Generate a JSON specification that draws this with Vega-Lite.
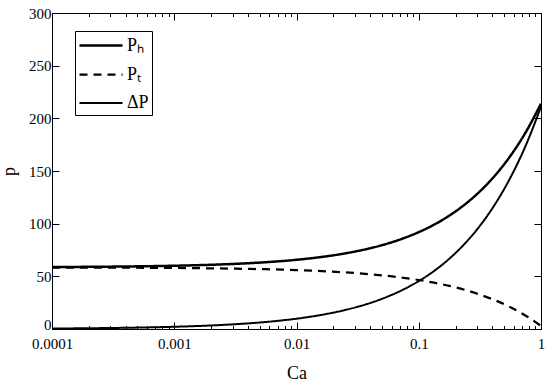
{
  "$schema": "https://vega.github.io/schema/vega-lite/v6.json",
  "width": 489,
  "height": 316,
  "autosize": "none",
  "padding": {"left": 52, "top": 13, "right": 9, "bottom": 55},
  "background": "white",
  "config": {
    "view": {"stroke": "black", "strokeWidth": 1},
    "font": "Liberation Serif",
    "axis": {
      "domainColor": "black",
      "tickColor": "black",
      "labelColor": "black",
      "titleColor": "black",
      "labelFont": "Liberation Serif",
      "titleFont": "Liberation Serif",
      "labelFontSize": 15,
      "titleFontSize": 18,
      "titleFontWeight": "normal",
      "grid": false,
      "tickWidth": 1,
      "domainWidth": 1
    },
    "legend": {
      "labelFont": "Liberation Serif",
      "labelFontSize": 18,
      "labelColor": "black"
    }
  },
  "data": {
    "values": [
      {"Ca": 0.0001, "p": 58.83, "s": "Pₕ"},
      {"Ca": 0.0001334, "p": 58.91, "s": "Pₕ"},
      {"Ca": 0.0001778, "p": 58.99, "s": "Pₕ"},
      {"Ca": 0.0002371, "p": 59.10, "s": "Pₕ"},
      {"Ca": 0.0003162, "p": 59.22, "s": "Pₕ"},
      {"Ca": 0.0004217, "p": 59.38, "s": "Pₕ"},
      {"Ca": 0.0005623, "p": 59.56, "s": "Pₕ"},
      {"Ca": 0.0007499, "p": 59.78, "s": "Pₕ"},
      {"Ca": 0.001, "p": 60.05, "s": "Pₕ"},
      {"Ca": 0.001334, "p": 60.39, "s": "Pₕ"},
      {"Ca": 0.001778, "p": 60.78, "s": "Pₕ"},
      {"Ca": 0.002371, "p": 61.26, "s": "Pₕ"},
      {"Ca": 0.003162, "p": 61.85, "s": "Pₕ"},
      {"Ca": 0.004217, "p": 62.56, "s": "Pₕ"},
      {"Ca": 0.005623, "p": 63.41, "s": "Pₕ"},
      {"Ca": 0.007499, "p": 64.45, "s": "Pₕ"},
      {"Ca": 0.01, "p": 65.71, "s": "Pₕ"},
      {"Ca": 0.01334, "p": 67.24, "s": "Pₕ"},
      {"Ca": 0.01778, "p": 69.09, "s": "Pₕ"},
      {"Ca": 0.02371, "p": 71.33, "s": "Pₕ"},
      {"Ca": 0.03162, "p": 74.04, "s": "Pₕ"},
      {"Ca": 0.04217, "p": 77.33, "s": "Pₕ"},
      {"Ca": 0.05623, "p": 81.31, "s": "Pₕ"},
      {"Ca": 0.07499, "p": 86.14, "s": "Pₕ"},
      {"Ca": 0.1, "p": 91.99, "s": "Pₕ"},
      {"Ca": 0.1334, "p": 99.06, "s": "Pₕ"},
      {"Ca": 0.1778, "p": 107.65, "s": "Pₕ"},
      {"Ca": 0.2371, "p": 118.05, "s": "Pₕ"},
      {"Ca": 0.3162, "p": 130.64, "s": "Pₕ"},
      {"Ca": 0.4217, "p": 145.90, "s": "Pₕ"},
      {"Ca": 0.5623, "p": 164.39, "s": "Pₕ"},
      {"Ca": 0.7499, "p": 186.79, "s": "Pₕ"},
      {"Ca": 1, "p": 213.93, "s": "Pₕ"},
      {"Ca": 0.0001, "p": 58.38, "s": "Pₜ"},
      {"Ca": 0.0001334, "p": 58.36, "s": "Pₜ"},
      {"Ca": 0.0001778, "p": 58.32, "s": "Pₜ"},
      {"Ca": 0.0002371, "p": 58.29, "s": "Pₜ"},
      {"Ca": 0.0003162, "p": 58.24, "s": "Pₜ"},
      {"Ca": 0.0004217, "p": 58.19, "s": "Pₜ"},
      {"Ca": 0.0005623, "p": 58.12, "s": "Pₜ"},
      {"Ca": 0.0007499, "p": 58.04, "s": "Pₜ"},
      {"Ca": 0.001, "p": 57.94, "s": "Pₜ"},
      {"Ca": 0.001334, "p": 57.83, "s": "Pₜ"},
      {"Ca": 0.001778, "p": 57.68, "s": "Pₜ"},
      {"Ca": 0.002371, "p": 57.51, "s": "Pₜ"},
      {"Ca": 0.003162, "p": 57.30, "s": "Pₜ"},
      {"Ca": 0.004217, "p": 57.05, "s": "Pₜ"},
      {"Ca": 0.005623, "p": 56.74, "s": "Pₜ"},
      {"Ca": 0.007499, "p": 56.37, "s": "Pₜ"},
      {"Ca": 0.01, "p": 55.92, "s": "Pₜ"},
      {"Ca": 0.01334, "p": 55.37, "s": "Pₜ"},
      {"Ca": 0.01778, "p": 54.71, "s": "Pₜ"},
      {"Ca": 0.02371, "p": 53.91, "s": "Pₜ"},
      {"Ca": 0.03162, "p": 52.94, "s": "Pₜ"},
      {"Ca": 0.04217, "p": 51.77, "s": "Pₜ"},
      {"Ca": 0.05623, "p": 50.34, "s": "Pₜ"},
      {"Ca": 0.07499, "p": 48.62, "s": "Pₜ"},
      {"Ca": 0.1, "p": 46.53, "s": "Pₜ"},
      {"Ca": 0.1334, "p": 43.99, "s": "Pₜ"},
      {"Ca": 0.1778, "p": 40.93, "s": "Pₜ"},
      {"Ca": 0.2371, "p": 37.21, "s": "Pₜ"},
      {"Ca": 0.3162, "p": 32.70, "s": "Pₜ"},
      {"Ca": 0.4217, "p": 27.25, "s": "Pₜ"},
      {"Ca": 0.5623, "p": 20.64, "s": "Pₜ"},
      {"Ca": 0.7499, "p": 12.63, "s": "Pₜ"},
      {"Ca": 1, "p": 2.93, "s": "Pₜ"},
      {"Ca": 0.0001, "p": 0.45, "s": "ΔP"},
      {"Ca": 0.0001334, "p": 0.55, "s": "ΔP"},
      {"Ca": 0.0001778, "p": 0.67, "s": "ΔP"},
      {"Ca": 0.0002371, "p": 0.81, "s": "ΔP"},
      {"Ca": 0.0003162, "p": 0.98, "s": "ΔP"},
      {"Ca": 0.0004217, "p": 1.19, "s": "ΔP"},
      {"Ca": 0.0005623, "p": 1.44, "s": "ΔP"},
      {"Ca": 0.0007499, "p": 1.74, "s": "ΔP"},
      {"Ca": 0.001, "p": 2.11, "s": "ΔP"},
      {"Ca": 0.001334, "p": 2.56, "s": "ΔP"},
      {"Ca": 0.001778, "p": 3.10, "s": "ΔP"},
      {"Ca": 0.002371, "p": 3.75, "s": "ΔP"},
      {"Ca": 0.003162, "p": 4.55, "s": "ΔP"},
      {"Ca": 0.004217, "p": 5.51, "s": "ΔP"},
      {"Ca": 0.005623, "p": 6.67, "s": "ΔP"},
      {"Ca": 0.007499, "p": 8.08, "s": "ΔP"},
      {"Ca": 0.01, "p": 9.79, "s": "ΔP"},
      {"Ca": 0.01334, "p": 11.87, "s": "ΔP"},
      {"Ca": 0.01778, "p": 14.38, "s": "ΔP"},
      {"Ca": 0.02371, "p": 17.42, "s": "ΔP"},
      {"Ca": 0.03162, "p": 21.10, "s": "ΔP"},
      {"Ca": 0.04217, "p": 25.56, "s": "ΔP"},
      {"Ca": 0.05623, "p": 30.97, "s": "ΔP"},
      {"Ca": 0.07499, "p": 37.52, "s": "ΔP"},
      {"Ca": 0.1, "p": 45.46, "s": "ΔP"},
      {"Ca": 0.1334, "p": 55.07, "s": "ΔP"},
      {"Ca": 0.1778, "p": 66.72, "s": "ΔP"},
      {"Ca": 0.2371, "p": 80.84, "s": "ΔP"},
      {"Ca": 0.3162, "p": 97.94, "s": "ΔP"},
      {"Ca": 0.4217, "p": 118.65, "s": "ΔP"},
      {"Ca": 0.5623, "p": 143.75, "s": "ΔP"},
      {"Ca": 0.7499, "p": 174.16, "s": "ΔP"},
      {"Ca": 1, "p": 211.0, "s": "ΔP"}
    ]
  },
  "layer": [
    {
      "mark": {"type": "line", "color": "black", "interpolate": "monotone", "clip": true},
      "encoding": {
        "x": {
          "field": "Ca", "type": "quantitative",
          "scale": {"type": "log", "domain": [0.0001, 1], "nice": false},
          "axis": {
            "orient": "bottom",
            "title": "Ca",
            "values": [0.0001,0.0002,0.0003,0.0004,0.0005,0.0006,0.0007,0.0008,0.0009,0.001,0.002,0.003,0.004,0.005,0.006,0.007,0.008,0.009,0.01,0.02,0.03,0.04,0.05,0.06,0.07,0.08,0.09,0.1,0.2,0.3,0.4,0.5,0.6,0.7,0.8,0.9,1],
            "labelExpr": "abs(log(datum.value)/LN10 - round(log(datum.value)/LN10)) < 0.000001 ? format(datum.value, '~g') : ''",
            "tickSize": {"condition": {"test": "abs(log(datum.value)/LN10 - round(log(datum.value)/LN10)) < 0.000001", "value": -7}, "value": -3.5},
            "labelPadding": 14,
            "labelFlush": false,
            "labelOverlap": false,
            "titlePadding": 10
          }
        },
        "y": {
          "field": "p", "type": "quantitative",
          "scale": {"domain": [0, 300], "nice": false},
          "axis": {
            "orient": "left",
            "title": "p",
            "values": [0, 50, 100, 150, 200, 250, 300],
            "tickSize": -7,
            "labelPadding": 8,
            "labelBaseline": {"condition": {"test": "datum.value == 0", "value": "alphabetic"}, "value": "middle"},
            "titlePadding": 10
          }
        },
        "strokeDash": {
          "field": "s", "type": "nominal",
          "scale": {"domain": ["Pₕ", "Pₜ", "ΔP"], "range": [[1, 0], [8, 6], [1, 0]]},
          "legend": {
            "title": null,
            "orient": "none",
            "legendX": 23,
            "legendY": 18,
            "strokeColor": "black",
            "padding": 3,
            "symbolType": "M-1,0H3.3",
            "symbolSize": 400,
            "symbolStrokeColor": "black",
            "rowPadding": 8,
            "labelOffset": 26
          }
        },
        "strokeWidth": {
          "field": "s", "type": "nominal",
          "scale": {"domain": ["Pₕ", "Pₜ", "ΔP"], "range": [2.5, 2, 1]},
          "legend": {"title": null}
        }
      }
    },
    {
      "mark": {"type": "line", "opacity": 0},
      "encoding": {
        "x": {
          "field": "Ca", "type": "quantitative",
          "scale": {"type": "log", "domain": [0.0001, 1], "nice": false},
          "axis": {
            "orient": "top",
            "title": null,
            "labels": false,
            "values": [0.0001,0.0002,0.0003,0.0004,0.0005,0.0006,0.0007,0.0008,0.0009,0.001,0.002,0.003,0.004,0.005,0.006,0.007,0.008,0.009,0.01,0.02,0.03,0.04,0.05,0.06,0.07,0.08,0.09,0.1,0.2,0.3,0.4,0.5,0.6,0.7,0.8,0.9,1],
            "tickSize": {"condition": {"test": "abs(log(datum.value)/LN10 - round(log(datum.value)/LN10)) < 0.000001", "value": -7}, "value": -3.5}
          }
        },
        "y": {
          "field": "p", "type": "quantitative",
          "scale": {"domain": [0, 300], "nice": false},
          "axis": {
            "orient": "right",
            "title": null,
            "labels": false,
            "values": [0, 50, 100, 150, 200, 250, 300],
            "tickSize": -7
          }
        },
        "detail": {"field": "s"}
      }
    }
  ],
  "resolve": {"axis": {"x": "independent", "y": "independent"}}
}
